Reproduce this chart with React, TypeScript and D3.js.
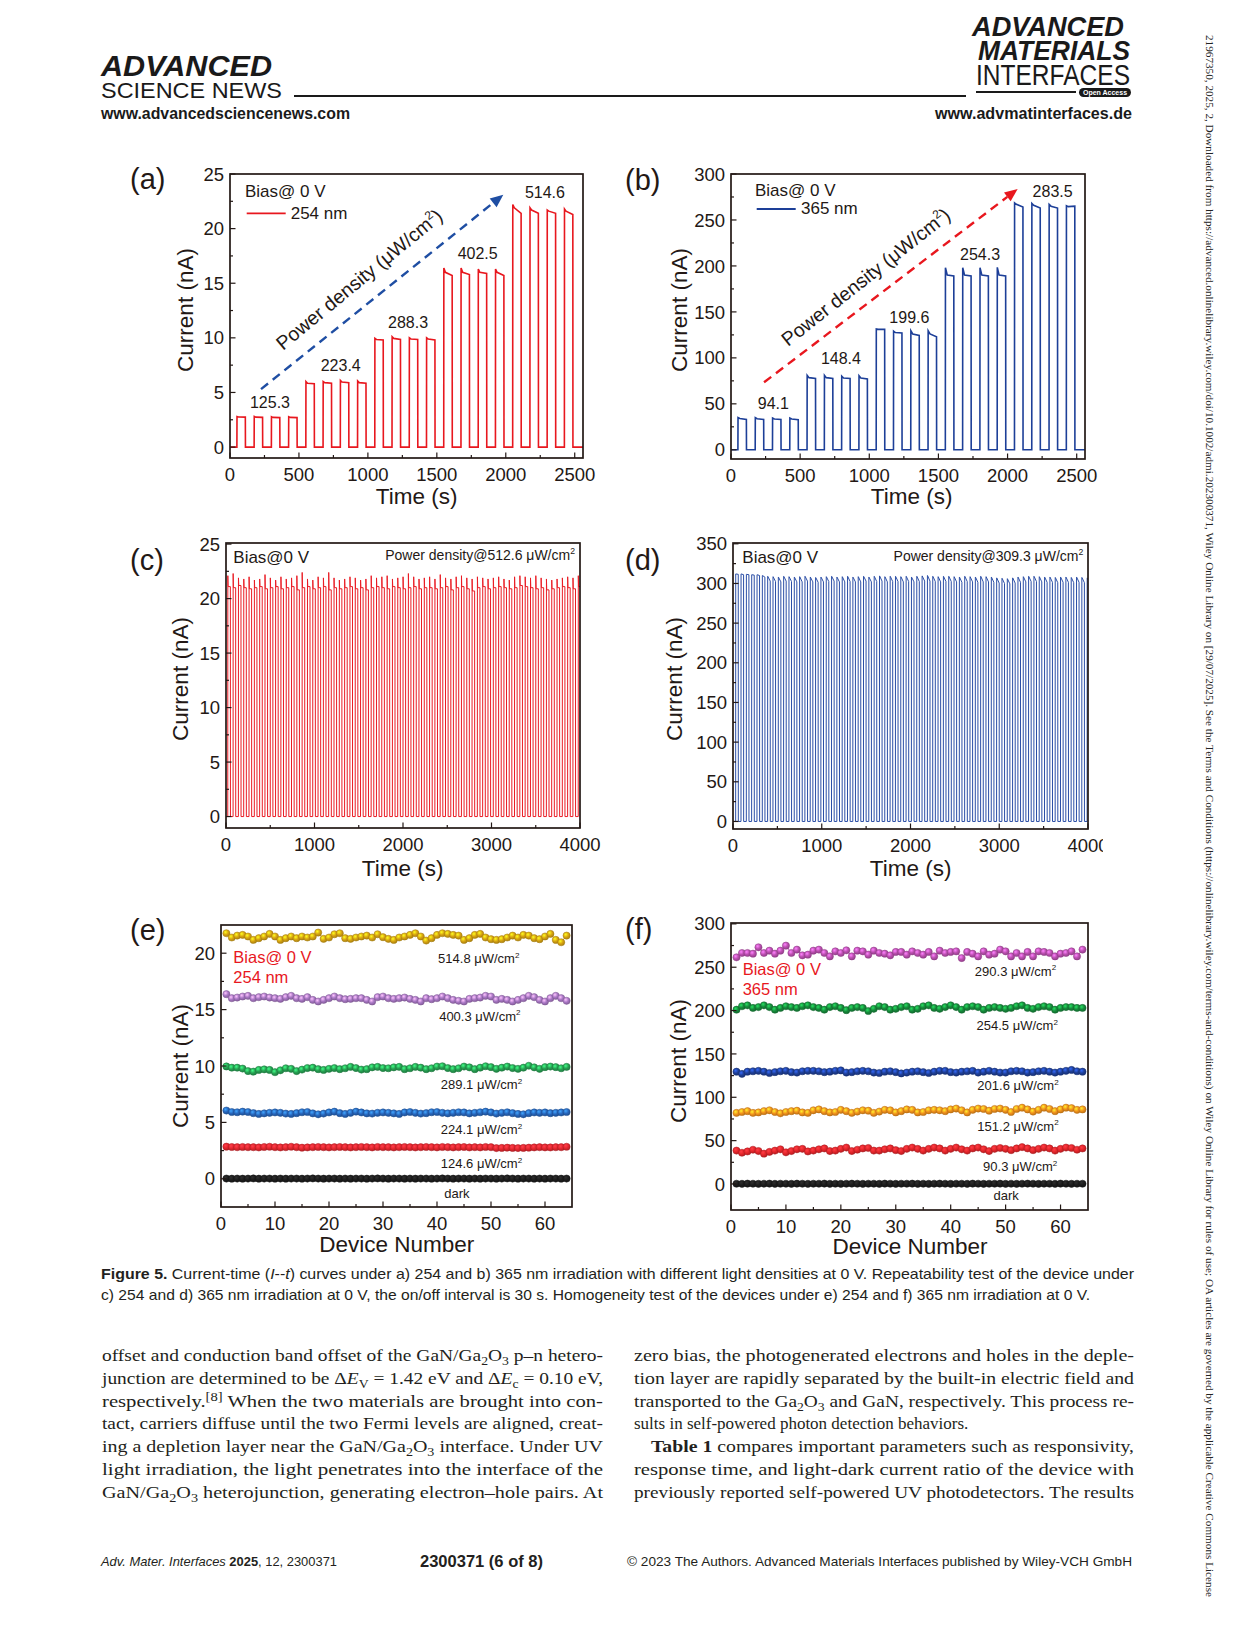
import * as d3 from "d3";

const INK = "#231815";
const SANS = "'Liberation Sans', Arial, Helvetica, sans-serif";
const NARROW = "'Liberation Sans Narrow', 'Liberation Sans', Arial, sans-serif";
const SERIF = "'Liberation Serif', 'Times New Roman', serif";

// ---------- (a) 254 nm, five power densities x four on/off cycles ----------
const densityA = ["125.3", "223.4", "288.3", "402.5", "514.6"];
const onsetAB = [50, 175, 300, 425, 550, 675, 800, 925, 1050, 1175, 1300, 1425, 1550, 1675, 1800, 1925, 2050, 2175, 2300, 2425];
const peakA = [2.8, 2.8, 2.78, 2.78, 6.0, 6.0, 6.1, 6.05, 9.95, 10.1, 10.0, 10.0, 16.4, 16.4, 16.3, 16.3, 22.2, 21.9, 21.7, 21.8];
const settleA = [2.76, 2.74, 2.72, 2.72, 5.85, 5.9, 5.95, 5.9, 9.85, 9.95, 9.9, 9.9, 16.0, 16.0, 16.0, 16.0, 21.9, 21.7, 21.6, 21.6];
const endA = [2.74, 2.72, 2.7, 2.7, 5.8, 5.85, 5.9, 5.85, 9.8, 9.85, 9.85, 9.8, 15.7, 15.8, 15.9, 15.7, 21.4, 21.4, 21.4, 21.3];

// ---------- (b) 365 nm ----------
const densityB = ["94.1", "148.4", "199.6", "254.3", "283.5"];
const peakB = [35, 35, 34.5, 34.5, 81, 81, 80, 80.5, 131.5, 129, 129.5, 129.5, 198, 198, 198, 198.5, 268.5, 268, 267, 265.5];
const settleB = [34, 33.8, 33.5, 33.5, 78.5, 78.5, 78, 78, 131, 127.5, 126, 126, 190, 190, 190, 190, 267, 266, 265, 264.5];
const endB = [33, 33, 33, 32.8, 77.5, 77.5, 77.5, 77, 131, 127, 124.5, 123, 189, 189, 189, 189, 264, 263, 263, 265];

// ---------- (c) / (d) repeatability, 30 s on / 30 s off ----------
const onOff = 30;
const cPeak = [
  22.1, 22.3, 21.9, 21.8, 22.0, 21.7, 21.8, 22.2, 21.9, 21.7,
  22.0, 21.8, 21.9, 22.1, 22.4, 21.8, 21.7, 22.0, 21.9, 22.4,
  21.9, 21.7, 21.8, 22.0, 21.9, 21.7, 21.8, 22.1, 21.9, 22.0,
  22.1, 21.8, 21.9, 22.0, 22.3, 22.0, 21.8, 21.9, 22.0, 21.8,
  22.2, 21.9, 21.8, 22.0, 22.1, 21.9, 21.8, 22.0, 21.9, 21.8,
  21.9, 22.0, 21.8, 21.7, 22.0, 22.1, 22.0, 21.9, 22.1, 21.9,
  21.8, 21.7, 21.8, 21.9, 22.0, 21.9, 22.1,
];
const cLow = [
  21.1, 21.0, 21.2, 21.0, 20.9, 21.0, 21.1, 20.9, 21.0, 21.1,
  20.9, 21.0, 21.1, 20.8, 21.0, 21.1, 20.9, 21.0, 21.1, 20.8,
  21.0, 20.9, 21.0, 21.1, 20.9, 21.0, 20.8, 21.0, 21.1, 21.0,
  20.9, 21.1, 21.0, 20.9, 21.0, 21.1, 20.9, 21.0, 21.0, 20.9,
  21.0, 21.1, 20.8, 21.0, 21.1, 20.9, 20.7, 21.0, 21.1, 20.9,
  21.0, 21.1, 21.0, 20.9, 21.0, 21.2, 21.1, 21.0, 20.9, 21.0,
  20.8, 20.9, 21.0, 21.1, 21.0, 20.9, 21.1,
];
const dPeak = [
  312, 312, 311.5, 311, 311, 310, 309, 308.5, 308, 309,
  308.5, 308, 308.5, 309, 308, 307.5, 308, 308.5, 309, 308,
  308.5, 309, 308, 308.5, 309, 308, 309, 309.5, 308.5, 309,
  309, 308.5, 309, 308, 309, 309.5, 310, 309, 308.5, 309,
  309, 308.5, 308, 309, 308.5, 308, 309, 308.5, 308, 307,
  306.5, 306, 307, 308, 308.5, 309, 309, 308.5, 308, 308,
  307.5, 308, 308, 307.5, 308, 307.5, 307,
];
const dEnd = [
  311.5, 311, 311, 310.5, 310, 308, 303, 302.5, 302, 303,
  302.5, 302, 302, 303, 302, 301.5, 302, 302.5, 303, 302,
  302, 302.5, 302, 302, 303, 302, 302.5, 303, 302, 302.5,
  302.5, 302, 302.5, 302, 302.5, 303, 303, 302.5, 302, 302.5,
  302.5, 302, 301.5, 302.5, 302, 301.5, 302, 302, 301.5, 300.5,
  300, 299.5, 300.5, 301.5, 302, 302.5, 302.5, 302, 301.5, 301.5,
  301, 301.5, 301.5, 301, 301.5, 301, 300.5,
];

// ---------- (e) homogeneity, 254 nm (dark, 124.6, 224.1, 289.1, 400.3, 514.8) ----------
const labelsE = ["dark", "124.6", "224.1", "289.1", "400.3", "514.8"];
const eDark = [
  0.02, 0.01, 0.02, 0.01, 0.02, 0.03, 0.01, 0.02, 0.02, 0.01,
  0.02, 0.01, 0.02, 0.02, 0.01, 0.02, 0.03, 0.02, 0.01, 0.02,
  0.02, 0.01, 0.02, 0.01, 0.02, 0.02, 0.01, 0.02, 0.03, 0.02,
  0.01, 0.02, 0.02, 0.01, 0.02, 0.01, 0.02, 0.02, 0.01, 0.02,
  0.03, 0.02, 0.01, 0.02, 0.02, 0.01, 0.02, 0.01, 0.02, 0.02,
  0.01, 0.02, 0.03, 0.02, 0.01, 0.02, 0.02, 0.01, 0.02, 0.01,
  0.02, 0.02, 0.01, 0.02,
];
const eRed = [
  2.85, 2.82, 2.8, 2.82, 2.8, 2.8, 2.78, 2.82, 2.84, 2.8,
  2.78, 2.8, 2.84, 2.8, 2.76, 2.78, 2.8, 2.82, 2.8, 2.78,
  2.8, 2.82, 2.8, 2.78, 2.8, 2.82, 2.8, 2.78, 2.82, 2.8,
  2.8, 2.78, 2.8, 2.82, 2.8, 2.78, 2.8, 2.82, 2.8, 2.78,
  2.82, 2.8, 2.78, 2.8, 2.82, 2.78, 2.8, 2.78, 2.82, 2.8,
  2.72, 2.74, 2.76, 2.74, 2.72, 2.74, 2.76, 2.78, 2.8, 2.78,
  2.78, 2.8, 2.8, 2.84,
];
const eBlue = [
  6.05, 5.92, 5.9, 5.95, 5.92, 5.82, 5.75, 5.8, 5.85, 5.88,
  5.85, 5.78, 5.75, 5.82, 5.9, 5.92, 5.8, 5.72, 5.78, 5.88,
  5.95, 5.82, 5.75, 5.85, 5.95, 5.88, 5.8, 5.78, 5.85, 5.88,
  5.85, 5.8, 5.75, 5.88, 5.92, 5.85, 5.78, 5.82, 5.9, 5.92,
  5.85, 5.8, 5.85, 5.9, 5.88, 5.8, 5.85, 5.9, 5.95, 5.88,
  5.78, 5.85, 5.9, 5.82, 5.75, 5.72, 5.82, 5.88, 5.85, 5.88,
  5.82, 5.85, 5.88, 5.92,
];
const eGreen = [
  9.96, 9.85, 9.85, 9.77, 9.55, 9.5, 9.65, 9.7, 9.65, 9.45,
  9.62, 9.8, 9.75, 9.55, 9.68, 9.82, 9.85, 9.72, 9.65, 9.75,
  9.82, 9.72, 9.8, 9.92, 9.82, 9.68, 9.72, 9.88, 9.92, 9.82,
  9.8, 9.88, 9.92, 9.72, 9.8, 9.92, 9.85, 9.72, 9.8, 9.95,
  9.98, 9.82, 9.72, 9.8, 9.95, 9.88, 9.72, 9.85, 9.98, 9.9,
  9.75, 9.85, 9.95, 9.82, 9.75, 9.85, 10.02, 9.88, 9.75, 9.9,
  9.95, 9.9, 9.8, 9.92,
];
const ePurple = [
  16.37, 16.01, 16.07, 16.16, 16.22, 16.01, 16.1, 16.16, 16.07, 16.01,
  15.95, 16.1, 16.22, 16.01, 15.95, 16.1, 15.86, 15.72, 15.86, 16.01,
  16.16, 16.01, 15.92, 15.95, 16.01, 16.01, 15.86, 15.72, 16.1, 16.16,
  16.01, 15.95, 16.01, 16.07, 15.95, 15.86, 15.72, 16.01, 15.92, 16.01,
  16.16, 16.01, 15.86, 15.78, 15.72, 15.95, 16.01, 16.07, 16.22, 16.16,
  15.86, 15.95, 15.86, 15.72, 15.86, 16.01, 16.22, 16.1, 15.86, 15.72,
  16.01, 16.22, 16.01, 15.78,
];
const eGold = [
  21.77, 21.39, 21.56, 21.62, 21.48, 21.18, 21.33, 21.48, 21.71, 21.48,
  21.18, 21.33, 21.48, 21.33, 21.48, 21.39, 21.48, 21.83, 21.27, 21.39,
  21.68, 21.77, 21.33, 21.27, 21.39, 21.48, 21.56, 21.39, 21.68, 21.42,
  21.27, 21.18, 21.39, 21.48, 21.62, 21.77, 21.48, 21.12, 21.33, 21.62,
  21.77, 21.71, 21.62, 21.56, 21.18, 21.33, 21.62, 21.71, 21.39, 21.24,
  21.18, 21.24, 21.39, 21.56, 21.39, 21.62, 21.56, 21.33, 21.24, 21.48,
  21.71, 21.18, 20.97, 21.56,
];

// ---------- (f) homogeneity, 365 nm (dark, 90.3, 151.2, 201.6, 254.5, 290.3) ----------
const labelsF = ["dark", "90.3", "151.2", "201.6", "254.5", "290.3"];
const fDark = [
  0.3, 0.2, 0.4, 0.3, 0.2, 0.3, 0.4, 0.2, 0.3, 0.3,
  0.2, 0.4, 0.3, 0.2, 0.3, 0.3, 0.4, 0.2, 0.3, 0.2,
  0.3, 0.4, 0.3, 0.2, 0.3, 0.3, 0.2, 0.4, 0.3, 0.2,
  0.3, 0.3, 0.4, 0.2, 0.3, 0.2, 0.3, 0.4, 0.3, 0.2,
  0.3, 0.3, 0.2, 0.4, 0.3, 0.2, 0.3, 0.3, 0.4, 0.2,
  0.3, 0.2, 0.3, 0.4, 0.3, 0.2, 0.3, 0.3, 0.2, 0.4,
  0.3, 0.2, 0.3, 0.3,
];
const fRed = [
  38.5, 36, 37.5, 39.5, 38, 35, 37, 38.5, 40, 36.5,
  38, 40, 40.5, 37.5, 38.5, 40, 41, 38, 38.5, 40.5,
  42, 38, 39.5, 41, 41.5, 38.5, 38.5, 40, 41, 39,
  38, 40.5, 42, 40.5, 38.5, 40.5, 42, 41, 38.5, 40.5,
  42, 40, 38.5, 41, 42, 40, 38, 40.5, 41.5, 40.5,
  39, 41, 42.5, 41, 39, 40.5, 42, 41, 38.5, 40.5,
  42, 41.5, 39.5, 41,
];
const fOrange = [
  82, 83, 84, 82, 82.5, 84, 85, 83, 81.5, 83,
  84, 84.5, 82.5, 82, 85, 86, 84, 82.5, 83, 85.5,
  84, 82, 83.5, 85, 84.5, 82, 83.5, 85.5, 85, 82.5,
  84, 86, 85.5, 82.5, 83, 85, 85.5, 85, 84, 86,
  87, 85, 82.5, 85.5, 87, 86.5, 84.5, 86.5, 87, 85.5,
  83, 86.5, 88, 86, 83.5, 85.5, 88, 86.5, 84, 86,
  88, 87.5, 85.5, 86,
];
const fBlue = [
  129.5, 127, 129.5, 130, 130.5, 129.5, 128, 129, 130, 130.5,
  129, 128.5, 130, 130.5, 130.5, 130, 129, 129.5, 130.5, 131,
  128.5, 129, 130, 130.5, 130, 128.5, 128, 129.5, 130, 129,
  127.5, 128.5, 129.5, 130, 129, 128, 129.5, 130.5, 130.5, 129,
  128.5, 129.5, 130, 130.5, 128.5, 129.5, 130.5, 129.5, 128.5, 128.5,
  130, 130.5, 130, 128.5, 129, 130, 130.5, 129.5, 128.5, 129.5,
  130.5, 131.5, 130, 129.5,
];
const fGreen = [
  201, 205, 206, 203, 204, 206, 204, 201, 203, 205,
  204, 203, 205, 206, 204, 203, 201, 204, 205, 203,
  200.5, 203, 204, 203, 199.5, 202, 205, 204, 201, 202,
  204, 205, 201, 202, 205, 206, 203, 202, 204, 206,
  204, 201, 204, 205, 204, 201, 203, 204, 203, 202,
  203, 205, 206, 203, 202, 204, 205, 204, 201, 203,
  204, 204, 203, 203,
];
const fMagenta = [
  261.4, 266.4, 266.4, 265.6, 273.0, 266.4, 269.1, 265.6, 269.1, 274.9,
  266.4, 270.3, 263.7, 264.5, 269.1, 270.3, 266.4, 262.5, 268.3, 266.4,
  269.5, 262.5, 269.1, 268.3, 264.5, 269.1, 266.4, 265.6, 263.7, 267.6,
  267.6, 264.5, 268.3, 266.4, 264.5, 267.6, 262.5, 269.1, 266.4, 267.6,
  268.3, 260.6, 267.6, 265.6, 262.5, 268.3, 264.5, 265.6, 270.3, 268.3,
  262.5, 266.4, 262.5, 267.6, 262.5, 268.3, 267.6, 266.4, 262.5, 265.6,
  266.4, 268.3, 262.5, 270.3,
];

const seriesE = [eDark, eRed, eBlue, eGreen, ePurple, eGold];
const seriesF = [fDark, fRed, fOrange, fBlue, fGreen, fMagenta];
const colorsE = ["#1c1c1c", "#e3262e", "#2765bb", "#27a052", "#a877c4", "#d8a412"];
const colorsF = ["#1c1c1c", "#e3252a", "#f2921c", "#1f3f96", "#17893b", "#bb4fb0"];

// ---------- ticks ----------
const ticksTimeAB = [0, 500, 1000, 1500, 2000, 2500];
const minorTimeAB = [250, 750, 1250, 1750, 2250];
const ticksTimeCD = [0, 1000, 2000, 3000, 4000];
const minorTimeCD = [500, 1500, 2500, 3500];
const ticksCur25 = [0, 5, 10, 15, 20, 25];
const minorCur25 = [2.5, 7.5, 12.5, 17.5, 22.5];
const ticksCur300 = [0, 50, 100, 150, 200, 250, 300];
const minorCur300 = [25, 75, 125, 175, 225, 275];
const ticksCur350 = [0, 50, 100, 150, 200, 250, 300, 350];
const minorCur350 = [25, 75, 125, 175, 225, 275, 325];
const ticksCurE = [0, 5, 10, 15, 20];
const minorCurE = [2.5, 7.5, 12.5, 17.5];
const ticksDevice = [0, 10, 20, 30, 40, 50, 60];
const minorDevice = [5, 15, 25, 35, 45, 55];

// ---------- scales ----------
const xA = d3.scaleLinear().domain([0, 2560]).range([230, 583]);
const yA = d3.scaleLinear().domain([-1, 25]).range([458, 174]);
const xB = d3.scaleLinear().domain([0, 2560]).range([731, 1085]);
const yB = d3.scaleLinear().domain([-10, 300]).range([459, 174]);
const xC = d3.scaleLinear().domain([0, 4000]).range([226, 580]);
const yC = d3.scaleLinear().domain([-1.05, 25.1]).range([828, 543]);
const xD = d3.scaleLinear().domain([0, 4000]).range([733, 1088]);
const yD = d3.scaleLinear().domain([-9.5, 351]).range([829, 543]);
const xE = d3.scaleLinear().domain([0, 65]).range([221, 572]);
const yE = d3.scaleLinear().domain([-2.5, 22.5]).range([1207, 925]);
const xF = d3.scaleLinear().domain([0, 65]).range([731, 1088]);
const yF = d3.scaleLinear().domain([-30, 301]).range([1210, 923]);

type Lin = d3.ScaleLinear<number, number>;
type Pt = [number, number];

function pulseTrain(onsets: number[], peaks: number[], settles: number[], ends: number[], onLen: number, settleAt: number, tEnd: number): Pt[] {
  const pts: Pt[] = [[0, 0]];
  onsets.forEach((t0, i) => {
    pts.push([t0, 0], [t0 + 0.8, peaks[i]], [t0 + settleAt, settles[i]], [t0 + onLen - 0.8, ends[i]], [t0 + onLen, 0]);
  });
  pts.push([tEnd, 0]);
  return pts;
}

function linePath(x: Lin, y: Lin, pts: Pt[]) {
  return d3.line<Pt>().x(d => x(d[0])).y(d => y(d[1]))(pts) || "";
}

function Axes(p: {
  x: Lin; y: Lin; xTicks: number[]; xMinor: number[]; yTicks: number[]; yMinor: number[];
  xTitle: string; xTitlePos: Pt; yTitlePos: Pt;
}) {
  const { x, y } = p;
  const [l, r] = x.range();
  const [b, t] = y.range();
  return (
    <g fill={INK} fontFamily={SANS}>
      {p.yMinor.map(v => <line key={"ym" + v} x1={l} x2={l + 3} y1={y(v)} y2={y(v)} stroke={INK} strokeWidth={1.2} />)}
      {p.yTicks.map(v => <line key={"yt" + v} x1={l} x2={l + 5.5} y1={y(v)} y2={y(v)} stroke={INK} strokeWidth={1.2} />)}
      {p.xMinor.map(v => <line key={"xm" + v} x1={x(v)} x2={x(v)} y1={b} y2={b - 3} stroke={INK} strokeWidth={1.2} />)}
      {p.xTicks.map(v => <line key={"xt" + v} x1={x(v)} x2={x(v)} y1={b} y2={b - 5.5} stroke={INK} strokeWidth={1.2} />)}
      <rect x={l} y={t} width={r - l} height={b - t} fill="none" stroke={INK} strokeWidth={1.7} />
      {p.yTicks.map(v => (
        <text key={"yl" + v} x={l - 6} y={y(v) + 6.6} textAnchor="end" fontSize={18.5}>{v}</text>
      ))}
      {p.xTicks.map(v => (
        <text key={"xl" + v} x={x(v)} y={b + 23} textAnchor="middle" fontSize={18.5}>{v}</text>
      ))}
      <text x={p.xTitlePos[0]} y={p.xTitlePos[1]} textAnchor="middle" fontSize={22.5}>{p.xTitle}</text>
      <text transform={`translate(${p.yTitlePos[0]},${p.yTitlePos[1]}) rotate(-90)`} textAnchor="middle" fontSize={22.5}>
        Current (nA)
      </text>
    </g>
  );
}

function DashedArrow({ x1, y1, x2, y2, color }: { x1: number; y1: number; x2: number; y2: number; color: string }) {
  const ang = Math.atan2(y2 - y1, x2 - x1);
  const L = 13, W = 5.5;
  const bx = x2 - L * Math.cos(ang), by = y2 - L * Math.sin(ang);
  const px = -Math.sin(ang) * W, py = Math.cos(ang) * W;
  return (
    <g>
      <line x1={x1} y1={y1} x2={bx} y2={by} stroke={color} strokeWidth={2.4} strokeDasharray="9 6" />
      <polygon points={`${x2},${y2} ${bx + px},${by + py} ${bx - px},${by - py}`} fill={color} />
    </g>
  );
}

function Unit({ v, size }: { v: string; size: number }) {
  return (
    <>
      {v} μW/cm<tspan dy={-size * 0.42} fontSize={size * 0.62}>2</tspan>
    </>
  );
}

function PanelLetter({ x, y, t }: { x: number; y: number; t: string }) {
  return <text x={x} y={y} fontFamily={SANS} fontSize={29} fill={INK}>{t}</text>;
}

function PowerText({ x, y, angle }: { x: number; y: number; angle: number }) {
  return (
    <text transform={`translate(${x},${y}) rotate(${angle})`} fontFamily={SANS} fontSize={19.5} fill={INK}>
      Power density (μW/cm<tspan dy={-8} fontSize={12}>2</tspan><tspan dy={8}>)</tspan>
    </text>
  );
}

function Dots({ x, y, data, color, id }: { x: Lin; y: Lin; data: number[]; color: string; id: string }) {
  const pts: Pt[] = data.map((v, i) => [i + 1, v]);
  const edge = d3.color(color)!.darker(0.8).formatHex();
  return (
    <g>
      <path d={linePath(x, y, pts)} fill="none" stroke={color} strokeWidth={1} />
      {pts.map((d, i) => (
        <circle key={i} cx={x(d[0])} cy={y(d[1])} r={3.6} fill={`url(#${id})`} stroke={edge} strokeWidth={0.5} />
      ))}
    </g>
  );
}

function ga2o3(after: string) {
  return (
    <>
      Ga<tspan dy={4} fontSize={12}>2</tspan><tspan dy={-4}>O</tspan><tspan dy={4} fontSize={12}>3</tspan><tspan dy={-4}>{after}</tspan>
    </>
  );
}

function BodyLine({ x, y, w, children }: { x: number; y: number; w?: number; children: any }) {
  return (
    <text x={x} y={y} fontFamily={SERIF} fontSize={17} fill="#231f20" textLength={w} lengthAdjust={w ? "spacingAndGlyphs" : undefined}>
      {children}
    </text>
  );
}

export default function App() {
  const trainA = pulseTrain(onsetAB, peakA, settleA, endA, 62, 12, 2560);
  const trainB = pulseTrain(onsetAB, peakB, settleB, endB, 62, 14, 2560);
  const onsetC = d3.range(cPeak.length).map(i => 20 + i * 2 * onOff);
  const onsetD = d3.range(dPeak.length).map(i => 30 + i * 2 * onOff);
  const trainC = pulseTrain(onsetC, cPeak, cLow, cLow, onOff, 4, 4100);
  const trainD = pulseTrain(onsetD, dPeak, dPeak, dEnd, onOff, 2, 4100);

  const labelPosA: Pt[] = [[290, 3.58], [803, 6.99], [1291, 10.93], [1796, 17.22], [2284, 22.83]];
  const labelPosB: Pt[] = [[306, 44.4], [795, 93.3], [1290, 138.2], [1801, 206.4], [2326, 275.3]];
  const labelPosE: Pt[] = [[41.35, -1.73], [40.7, 0.93], [40.7, 3.95], [40.7, 7.93], [40.4, 14.0], [40.2, 19.1]];
  const labelPosF: Pt[] = [[47.8, -18.5], [45.9, 15], [44.85, 61.5], [44.85, 108.4], [44.7, 177.6], [44.4, 240]];

  const allColors = [...colorsE.map((c, i) => ["gE" + i, c]), ...colorsF.map((c, i) => ["gF" + i, c])];

  return (
    <div style={{ position: "absolute", left: 0, top: 0, width: 1241, height: 1630, background: "#fff" }}>
      <svg width={1241} height={1630} viewBox="0 0 1241 1630" fontFamily={SANS}>
        <defs>
          {allColors.map(([id, c]) => (
            <radialGradient key={id} id={id} cx="38%" cy="35%" r="65%">
              <stop offset="0%" stopColor={d3.color(c)!.brighter(1.4).formatHex()} />
              <stop offset="55%" stopColor={c} />
              <stop offset="100%" stopColor={d3.color(c)!.darker(0.6).formatHex()} />
            </radialGradient>
          ))}
          <clipPath id="clipA"><rect x={230} y={174} width={353} height={284} /></clipPath>
          <clipPath id="clipB"><rect x={731} y={174} width={354} height={285} /></clipPath>
          <clipPath id="clipC"><rect x={226} y={543} width={354} height={285} /></clipPath>
          <clipPath id="clipD"><rect x={733} y={543} width={355} height={286} /></clipPath>
          <clipPath id="clipDpanel"><rect x={600} y={500} width={503} height={400} /></clipPath>
        </defs>
        <rect width={1241} height={1630} fill="#fff" />

        {/* ---------- header ---------- */}
        <text x={101} y={76} fontFamily={NARROW} fontWeight="bold" fontStyle="italic" fontSize={29} textLength={171} lengthAdjust="spacingAndGlyphs" fill="#1a1a1a">ADVANCED</text>
        <text x={101} y={97.5} fontFamily={NARROW} fontSize={21.5} textLength={181} lengthAdjust="spacingAndGlyphs" fill="#1a1a1a">SCIENCE NEWS</text>
        <line x1={294} x2={966} y1={96} y2={96} stroke="#1a1a1a" strokeWidth={1.8} />
        <text x={101} y={119} fontFamily={NARROW} fontWeight="bold" fontSize={17} textLength={249} lengthAdjust="spacingAndGlyphs" fill="#1a1a1a">www.advancedsciencenews.com</text>

        <text x={972} y={36} fontFamily={NARROW} fontWeight="bold" fontStyle="italic" fontSize={28} textLength={152} lengthAdjust="spacingAndGlyphs" fill="#1a1a1a">ADVANCED</text>
        <text x={978} y={60} fontFamily={NARROW} fontWeight="bold" fontStyle="italic" fontSize={28} textLength={152} lengthAdjust="spacingAndGlyphs" fill="#1a1a1a">MATERIALS</text>
        <text x={976} y={85} fontFamily={NARROW} fontSize={29} textLength={154} lengthAdjust="spacingAndGlyphs" fill="#1a1a1a">INTERFACES</text>
        <line x1={976} x2={1076} y1={92} y2={92} stroke="#1a1a1a" strokeWidth={2.2} />
        <rect x={1079} y={88} width={52} height={9} rx={4.5} fill="#1a1a1a" />
        <text x={1105} y={95} textAnchor="middle" fontFamily={NARROW} fontWeight="bold" fontSize={7} fill="#fff">Open Access</text>
        <text x={935} y={119} fontFamily={NARROW} fontWeight="bold" fontSize={17} textLength={197} lengthAdjust="spacingAndGlyphs" fill="#1a1a1a">www.advmatinterfaces.de</text>

        {/* right margin */}
        <text transform="translate(1206,35) rotate(90)" fontFamily={SERIF} fontSize={11} fill="#222" textLength={1562} lengthAdjust="spacingAndGlyphs">
          21967350, 2025, 2, Downloaded from https://advanced.onlinelibrary.wiley.com/doi/10.1002/admi.202300371, Wiley Online Library on [29/07/2025]. See the Terms and Conditions (https://onlinelibrary.wiley.com/terms-and-conditions) on Wiley Online Library for rules of use; OA articles are governed by the applicable Creative Commons License
        </text>

        {/* ---------- (a) ---------- */}
        <PanelLetter x={130} y={189} t="(a)" />
        <path d={linePath(xA, yA, trainA)} fill="none" stroke="#e8171e" strokeWidth={1.6} clipPath="url(#clipA)" />
        <Axes x={xA} y={yA} xTicks={ticksTimeAB} xMinor={minorTimeAB} yTicks={ticksCur25} yMinor={minorCur25}
          xTitle="Time (s)" xTitlePos={[416.7, 503.5]} yTitlePos={[192.5, 310]} />
        <text x={245} y={197} fontSize={17} fill={INK}>Bias@ 0 V</text>
        <line x1={246.7} x2={285.7} y1={213.3} y2={213.3} stroke="#e8171e" strokeWidth={1.8} />
        <text x={290.7} y={219} fontSize={17} fill={INK}>254 nm</text>
        {densityA.map((d, i) => (
          <text key={d} x={xA(labelPosA[i][0])} y={yA(labelPosA[i][1])} textAnchor="middle" fontSize={16} fill={INK}>{d}</text>
        ))}
        <DashedArrow x1={xA(225)} y1={yA(5.3)} x2={xA(1982)} y2={yA(23.1)} color="#1f4ea3" />
        <PowerText x={283} y={351} angle={-39.5} />

        {/* ---------- (b) ---------- */}
        <PanelLetter x={625} y={190} t="(b)" />
        <path d={linePath(xB, yB, trainB)} fill="none" stroke="#1d3f98" strokeWidth={1.6} clipPath="url(#clipB)" />
        <Axes x={xB} y={yB} xTicks={ticksTimeAB} xMinor={minorTimeAB} yTicks={ticksCur300} yMinor={minorCur300}
          xTitle="Time (s)" xTitlePos={[911.7, 504]} yTitlePos={[686.5, 310]} />
        <text x={755} y={196} fontSize={17} fill={INK}>Bias@ 0 V</text>
        <line x1={756.7} x2={795.7} y1={209} y2={209} stroke="#1d3f98" strokeWidth={1.8} />
        <text x={801} y={214.3} fontSize={17} fill={INK}>365 nm</text>
        {densityB.map((d, i) => (
          <text key={d} x={xB(labelPosB[i][0])} y={yB(labelPosB[i][1])} textAnchor="middle" fontSize={16} fill={INK}>{d}</text>
        ))}
        <DashedArrow x1={xB(239)} y1={yB(73.4)} x2={xB(2073)} y2={yB(283.7)} color="#e8171e" />
        <PowerText x={788} y={347} angle={-38.3} />

        {/* ---------- (c) ---------- */}
        <PanelLetter x={130} y={570} t="(c)" />
        <path d={linePath(xC, yC, trainC)} fill="none" stroke="#ea1c24" strokeWidth={1} clipPath="url(#clipC)" />
        <Axes x={xC} y={yC} xTicks={ticksTimeCD} xMinor={minorTimeCD} yTicks={ticksCur25} yMinor={minorCur25}
          xTitle="Time (s)" xTitlePos={[402.7, 876]} yTitlePos={[188.3, 679]} />
        <text x={233.3} y={563.3} fontSize={17} fill={INK}>Bias@0 V</text>
        <text x={575} y={560} textAnchor="end" fontSize={14} fill={INK}><Unit v="Power density@512.6" size={14} /></text>

        {/* ---------- (d) ---------- */}
        <g clipPath="url(#clipDpanel)">
          <PanelLetter x={625} y={570} t="(d)" />
          <path d={linePath(xD, yD, trainD)} fill="none" stroke="#2b4ea6" strokeWidth={1} clipPath="url(#clipD)" />
          <Axes x={xD} y={yD} xTicks={ticksTimeCD} xMinor={minorTimeCD} yTicks={ticksCur350} yMinor={minorCur350}
            xTitle="Time (s)" xTitlePos={[910.7, 876]} yTitlePos={[681.7, 679]} />
          <text x={742.3} y={563.3} fontSize={17} fill={INK}>Bias@0 V</text>
          <text x={1083.3} y={560.7} textAnchor="end" fontSize={14} fill={INK}><Unit v="Power density@309.3" size={14} /></text>
        </g>

        {/* ---------- (e) ---------- */}
        <PanelLetter x={130} y={940} t="(e)" />
        {seriesE.map((s, i) => <Dots key={i} x={xE} y={yE} data={s} color={colorsE[i]} id={"gE" + i} />)}
        <Axes x={xE} y={yE} xTicks={ticksDevice} xMinor={minorDevice} yTicks={ticksCurE} yMinor={minorCurE}
          xTitle="Device Number" xTitlePos={[396.7, 1252]} yTitlePos={[187.7, 1066]} />
        <text x={233.3} y={962.7} fontSize={16.5} fill="#e8171e">Bias@ 0 V</text>
        <text x={233.3} y={983.3} fontSize={16.5} fill="#e8171e">254 nm</text>
        {labelsE.map((l, i) => (
          <text key={l} x={xE(labelPosE[i][0])} y={yE(labelPosE[i][1])} fontSize={13} fill={INK}>
            {i === 0 ? l : <Unit v={l} size={13} />}
          </text>
        ))}

        {/* ---------- (f) ---------- */}
        <PanelLetter x={625} y={939} t="(f)" />
        {seriesF.map((s, i) => <Dots key={i} x={xF} y={yF} data={s} color={colorsF[i]} id={"gF" + i} />)}
        <Axes x={xF} y={yF} xTicks={ticksDevice} xMinor={minorDevice} yTicks={ticksCur300} yMinor={minorCur300}
          xTitle="Device Number" xTitlePos={[910, 1254]} yTitlePos={[686, 1061]} />
        <text x={742.7} y={975} fontSize={16.5} fill="#e8171e">Bias@ 0 V</text>
        <text x={742.7} y={995} fontSize={16.5} fill="#e8171e">365 nm</text>
        {labelsF.map((l, i) => (
          <text key={l} x={xF(labelPosF[i][0])} y={yF(labelPosF[i][1])} fontSize={13} fill={INK}>
            {i === 0 ? l : <Unit v={l} size={13} />}
          </text>
        ))}

        {/* ---------- caption ---------- */}
        <text x={101} y={1279} fontFamily={NARROW} fontSize={14.5} fill="#231f20" textLength={1033} lengthAdjust="spacingAndGlyphs">
          <tspan fontWeight="bold">Figure 5.</tspan>{" "}Current-time (<tspan fontStyle="italic">I</tspan>--<tspan fontStyle="italic">t</tspan>) curves under a) 254 and b) 365 nm irradiation with different light densities at 0 V. Repeatability test of the device under
        </text>
        <text x={101} y={1300} fontFamily={NARROW} fontSize={14.5} fill="#231f20" textLength={989} lengthAdjust="spacingAndGlyphs">
          c) 254 and d) 365 nm irradiation at 0 V, the on/off interval is 30 s. Homogeneity test of the devices under e) 254 and f) 365 nm irradiation at 0 V.
        </text>

        {/* ---------- body text ---------- */}
        <BodyLine x={102} y={1361} w={501}>offset and conduction band offset of the GaN/{ga2o3(" p–n hetero-")}</BodyLine>
        <BodyLine x={102} y={1384} w={501}>
          junction are determined to be Δ<tspan fontStyle="italic">E</tspan><tspan dy={4} fontSize={12}>V</tspan><tspan dy={-4}> = 1.42 eV and Δ</tspan><tspan fontStyle="italic">E</tspan><tspan dy={4} fontSize={12}>c</tspan><tspan dy={-4}> = 0.10 eV,</tspan>
        </BodyLine>
        <BodyLine x={102} y={1407} w={501}>
          respectively.<tspan dy={-6} fontSize={12}>[8]</tspan><tspan dy={6}> When the two materials are brought into con-</tspan>
        </BodyLine>
        <BodyLine x={102} y={1429} w={501}>tact, carriers diffuse until the two Fermi levels are aligned, creat-</BodyLine>
        <BodyLine x={102} y={1452} w={501}>ing a depletion layer near the GaN/{ga2o3(" interface. Under UV")}</BodyLine>
        <BodyLine x={102} y={1475} w={501}>light irradiation, the light penetrates into the interface of the</BodyLine>
        <BodyLine x={102} y={1498} w={501}>GaN/{ga2o3(" heterojunction, generating electron–hole pairs. At")}</BodyLine>

        <BodyLine x={634} y={1361} w={500}>zero bias, the photogenerated electrons and holes in the deple-</BodyLine>
        <BodyLine x={634} y={1384} w={500}>tion layer are rapidly separated by the built-in electric field and</BodyLine>
        <BodyLine x={634} y={1407} w={500}>transported to the {ga2o3(" and GaN, respectively. This process re-")}</BodyLine>
        <BodyLine x={634} y={1429}>sults in self-powered photon detection behaviors.</BodyLine>
        <BodyLine x={651} y={1452} w={483}>
          <tspan fontWeight="bold">Table 1</tspan>{" "}compares important parameters such as responsivity,
        </BodyLine>
        <BodyLine x={634} y={1475} w={500}>response time, and light-dark current ratio of the device with</BodyLine>
        <BodyLine x={634} y={1498} w={500}>previously reported self-powered UV photodetectors. The results</BodyLine>

        {/* ---------- footer ---------- */}
        <text x={101} y={1566} fontFamily={NARROW} fontSize={13.5} fill="#231f20" textLength={236} lengthAdjust="spacingAndGlyphs">
          <tspan fontStyle="italic">Adv. Mater. Interfaces</tspan>{" "}<tspan fontWeight="bold">2025</tspan>, 12, 2300371
        </text>
        <text x={420} y={1567} fontFamily={NARROW} fontWeight="bold" fontSize={16} fill="#231f20" textLength={123} lengthAdjust="spacingAndGlyphs">2300371 (6 of 8)</text>
        <text x={627} y={1566} fontFamily={NARROW} fontSize={13.5} fill="#231f20" textLength={505} lengthAdjust="spacingAndGlyphs">
          © 2023 The Authors. Advanced Materials Interfaces published by Wiley-VCH GmbH
        </text>
      </svg>
    </div>
  );
}
